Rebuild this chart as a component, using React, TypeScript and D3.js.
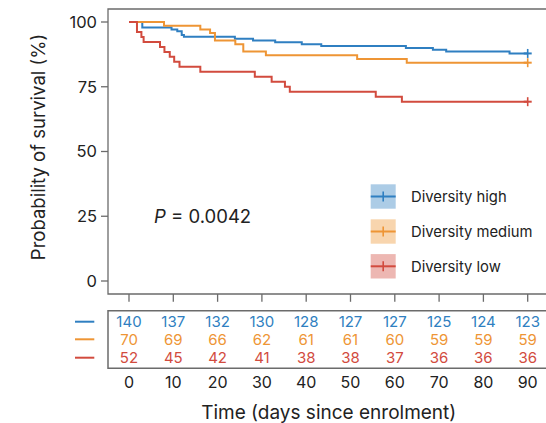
import React from "react";
import * as d3 from "d3";

const seriesNames = ["Diversity high", "Diversity medium", "Diversity low"];
const seriesColors = ["#2f7fc1", "#ee9535", "#d24b3e"];

const timeHigh = [0, 3, 9.6, 10.9, 11.9, 12.4, 23.9, 28, 33, 39, 43.4, 62.5, 68.6, 71.6, 85.9, 90];
const survHigh = [100, 97.86, 97.14, 96.43, 95.0, 94.29, 93.57, 92.86, 92.14, 91.43, 90.71, 90.0, 89.29, 88.57, 87.86, 87.86];

const timeMed = [0, 7.9, 16.1, 18.3, 19.4, 24, 25.8, 30.9, 51.5, 62.7, 90];
const survMed = [100, 98.57, 97.14, 95.71, 92.86, 91.43, 88.57, 87.14, 85.71, 84.29, 84.29];

const timeLow = [0, 1.8, 2.8, 3.3, 7.0, 8.0, 9.2, 10.2, 11.4, 16.1, 28.4, 32.2, 35.2, 36.3, 55.7, 61.6, 90];
const survLow = [100, 96.15, 94.23, 92.31, 90.38, 88.46, 86.54, 84.62, 82.69, 80.77, 78.85, 76.92, 75.0, 73.08, 71.15, 69.23, 69.23];

const xTicks = [0, 10, 20, 30, 40, 50, 60, 70, 80, 90];
const yTicks = [0, 25, 50, 75, 100];
const atRiskHigh = [140, 137, 132, 130, 128, 127, 127, 125, 124, 123];
const atRiskMed = [70, 69, 66, 62, 61, 61, 60, 59, 59, 59];
const atRiskLow = [52, 45, 42, 41, 38, 38, 37, 36, 36, 36];

const pText = "0.0042";
const xTitle = "Time (days since enrolment)";
const yTitle = "Probability of survival (%)";

const FONT = "Inter, 'Open Sans', sans-serif";

export default function App() {
  const W = 546;
  const H = 423;
  const x = d3.scaleLinear().domain([0, 90]).range([129, 527.7]);
  const y = d3.scaleLinear().domain([0, 100]).range([281, 22]);

  const line = d3
    .line<[number, number]>()
    .x((d) => x(d[0]))
    .y((d) => y(d[1]))
    .curve(d3.curveStepAfter);

  const series = [
    { t: timeHigh, s: survHigh, risk: atRiskHigh },
    { t: timeMed, s: survMed, risk: atRiskMed },
    { t: timeLow, s: survLow, risk: atRiskLow },
  ];

  const frameColor = "#6b6b6b";
  const frameLeft = 108;
  const frameTop = 9;
  const frameBottom = 294;
  const tableTop = 310.7;
  const tableBottom = 368.3;
  const rowY = [321.7, 339.3, 357.7];
  const legendY = [196.5, 231.5, 266.3];

  return (
    <svg
      width={W}
      height={H}
      style={{ position: "absolute", left: 0, top: 0, background: "#fff" }}
      fontFamily={FONT}
    >
      {/* plot frame */}
      <path
        d={`M${W + 5},${frameTop}H${frameLeft}V${frameBottom}H${W + 5}`}
        fill="none"
        stroke={frameColor}
        strokeWidth={1.3}
      />
      {/* y ticks */}
      {yTicks.map((v) => (
        <g key={v}>
          <line x1={101} x2={frameLeft} y1={y(v)} y2={y(v)} stroke={frameColor} strokeWidth={1.3} />
          <text x={97} y={y(v)} dy="0.36em" textAnchor="end" fontSize={16.5} fill="#222">
            {v}
          </text>
        </g>
      ))}
      {/* x ticks */}
      {xTicks.map((v) => (
        <g key={v}>
          <line x1={x(v)} x2={x(v)} y1={frameBottom} y2={301.8} stroke={frameColor} strokeWidth={1.3} />
          <text x={x(v)} y={382.3} dy="0.36em" textAnchor="middle" fontSize={16} fill="#222">
            {v}
          </text>
        </g>
      ))}
      {/* curves */}
      {series.map((sr, i) => {
        const pts: [number, number][] = sr.t.map((t, k) => [t, sr.s[k]]);
        const last = pts[pts.length - 1];
        return (
          <g key={i}>
            <path d={line(pts) || ""} fill="none" stroke={seriesColors[i]} strokeWidth={2} />
            <line
              x1={x(last[0]) - 4}
              x2={x(last[0]) + 4}
              y1={y(last[1])}
              y2={y(last[1])}
              stroke={seriesColors[i]}
              strokeWidth={2}
            />
            <line
              x1={x(last[0])}
              x2={x(last[0])}
              y1={y(last[1]) - 4.5}
              y2={y(last[1]) + 4.5}
              stroke={seriesColors[i]}
              strokeWidth={1.6}
            />
          </g>
        );
      })}
      {/* P value */}
      <text x={154} y={216.7} dy="0.36em" fontSize={18.5} fill="#222">
        <tspan fontStyle="italic">P</tspan>
        <tspan> = {pText}</tspan>
      </text>
      {/* legend */}
      {seriesNames.map((name, i) => (
        <g key={name}>
          <rect
            x={370.7}
            y={legendY[i] - 12.2}
            width={25}
            height={24.4}
            fill={seriesColors[i]}
            fillOpacity={0.4}
          />
          <line x1={370.7} x2={395.7} y1={legendY[i]} y2={legendY[i]} stroke={seriesColors[i]} strokeWidth={2} />
          <line
            x1={383.2}
            x2={383.2}
            y1={legendY[i] - 5}
            y2={legendY[i] + 5}
            stroke={seriesColors[i]}
            strokeWidth={1.6}
          />
          <text x={411} y={legendY[i]} dy="0.36em" fontSize={14.8} fill="#222">
            {name}
          </text>
        </g>
      ))}
      {/* at-risk table */}
      <path
        d={`M${W + 5},${tableTop}H${frameLeft}V${tableBottom}H${W + 5}`}
        fill="none"
        stroke={frameColor}
        strokeWidth={1.5}
      />
      {series.map((sr, i) => (
        <g key={"r" + i}>
          <line x1={75} x2={94.3} y1={rowY[i]} y2={rowY[i]} stroke={seriesColors[i]} strokeWidth={2} />
          {sr.risk.map((n, k) => (
            <text
              key={k}
              x={x(xTicks[k])}
              y={rowY[i]}
              dy="0.36em"
              textAnchor="middle"
              fontSize={15}
              fill={seriesColors[i]}
            >
              {n}
            </text>
          ))}
        </g>
      ))}
      {/* axis titles */}
      <text x={328.7} y={419} textAnchor="middle" fontSize={19} fill="#222">
        {xTitle}
      </text>
      <text
        transform="translate(45,147) rotate(-90)"
        textAnchor="middle"
        fontSize={18.5}
        fill="#222"
      >
        {yTitle}
      </text>
    </svg>
  );
}
